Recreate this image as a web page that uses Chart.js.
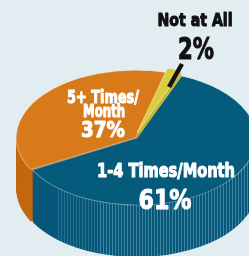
<!DOCTYPE html>
<html>
<head>
<meta charset="utf-8">
<script src="https://cdn.jsdelivr.net/npm/chart.js@4.4.1/dist/chart.umd.min.js"></script>
<style>
  html, body { margin: 0; padding: 0; background: #e2edf1; }
  #pie { display: block; }
</style>
</head>
<body>
<canvas id="pie" width="249" height="256"></canvas>
<script>
// data
var labels = ["1-4 Times/Month", "5+ Times/Month", "Not at All"];
var values = [61, 37, 2];
var labelLines = [["1-4 Times/Month"], ["5+ Times/", "Month"], ["Not at All"]];

var topColors = ['#045b7b', '#d8791a', '#d8cc40'];
var sideColors = ['#07587a', '#c2680f', '#c4b830'];
var textColors = ['#ffffff', '#ffffff', '#111111'];

// ellipse that the flat pie is squeezed into
var CX = 137, CY = 138, RX = 119, RY = 67, DEPTH = 52;
var lift = [0, 0, 5];

// label boxes: [centre x, baseline, width, font size]
var nameBoxes = [
    [[166, 177, 138, 19]],
    [[103, 103, 72, 18], [104, 117, 42, 17]],
    [[195, 26, 75, 18]]
];
var pctBoxes = [
    [165, 209, 53, 26],
    [103, 137, 44, 22],
    [196, 59, 36, 30]
];

function drawArc(ctx, meta, r, i, dy, color, border) {
    var arc = meta.data[i];
    ctx.save();
    ctx.translate(CX, CY + dy);
    ctx.scale(RX / r, RY / r);
    ctx.translate(-arc.x, -arc.y);
    var saved = arc.options;
    arc.options = Object.assign({}, saved, {
        backgroundColor: color,
        borderColor: border ? 'rgba(255,255,255,0.45)' : color,
        borderWidth: border ? 1 : 0
    });
    arc.draw(ctx);
    arc.options = saved;
    ctx.restore();
}

function fitText(ctx, text, box) {
    ctx.font = 'bold ' + box[3] + 'px "DejaVu Sans", sans-serif';
    var w = ctx.measureText(text).width;
    ctx.save();
    ctx.translate(box[0], box[1]);
    ctx.scale(box[2] / w, 1);
    ctx.lineWidth = 1.1;
    ctx.lineJoin = 'round';
    ctx.strokeText(text, 0, 0);
    ctx.fillText(text, 0, 0);
    ctx.restore();
}

var pie3d = {
    id: 'pie3d',
    beforeDatasetsDraw: function(chart) {
        var ctx = chart.ctx;
        var meta = chart.getDatasetMeta(0);
        var r = meta.data[0].outerRadius;
        var flat = [0, 1];
        // side walls
        for (var d = DEPTH; d > 0; d--) {
            flat.forEach(function(i) { drawArc(ctx, meta, r, i, d, sideColors[i], false); });
        }
        // light streaks on the blue wall
        ctx.save();
        ctx.globalCompositeOperation = 'source-atop';
        ctx.lineWidth = 1;
        for (var x = 58; x < 249; x += 3) {
            ctx.strokeStyle = x < 100 ? 'rgba(150,200,220,0.22)' : 'rgba(160,205,225,0.38)';
            ctx.beginPath();
            ctx.moveTo(x + 0.5, 140);
            ctx.lineTo(x + 0.5, 256);
            ctx.stroke();
        }
        ctx.restore();
        // tops
        flat.forEach(function(i) { drawArc(ctx, meta, r, i, 0, topColors[i], true); });
        // raised small slice
        for (var k = 0; k < lift[2]; k++) {
            drawArc(ctx, meta, r, 2, -k, sideColors[2], false);
        }
        drawArc(ctx, meta, r, 2, -lift[2], topColors[2], true);
        return false;
    },
    afterDraw: function(chart) {
        var ctx = chart.ctx;
        ctx.save();
        // leader for the small slice
        ctx.strokeStyle = '#111';
        ctx.lineWidth = 4.5;
        ctx.beginPath();
        ctx.moveTo(182, 64);
        ctx.lineTo(169, 87);
        ctx.stroke();

        ctx.textAlign = 'center';
        ctx.textBaseline = 'alphabetic';
        labels.forEach(function(name, i) {
            ctx.fillStyle = textColors[i];
            ctx.strokeStyle = textColors[i];
            labelLines[i].forEach(function(line, j) {
                fitText(ctx, line, nameBoxes[i][j]);
            });
            fitText(ctx, values[i] + '%', pctBoxes[i]);
        });
        ctx.restore();
    }
};

var chart = new Chart(document.getElementById('pie'), {
    type: 'pie',
    data: {
        labels: labels,
        datasets: [{
            data: values,
            backgroundColor: topColors,
            borderWidth: 0,
            offset: [0, 6, 0]
        }]
    },
    options: {
        responsive: false,
        animation: false,
        rotation: 22,
        layout: { padding: 10 },
        plugins: {
            legend: { display: false },
            tooltip: { enabled: false }
        }
    },
    plugins: [pie3d]
});
</script>
</body>
</html>
